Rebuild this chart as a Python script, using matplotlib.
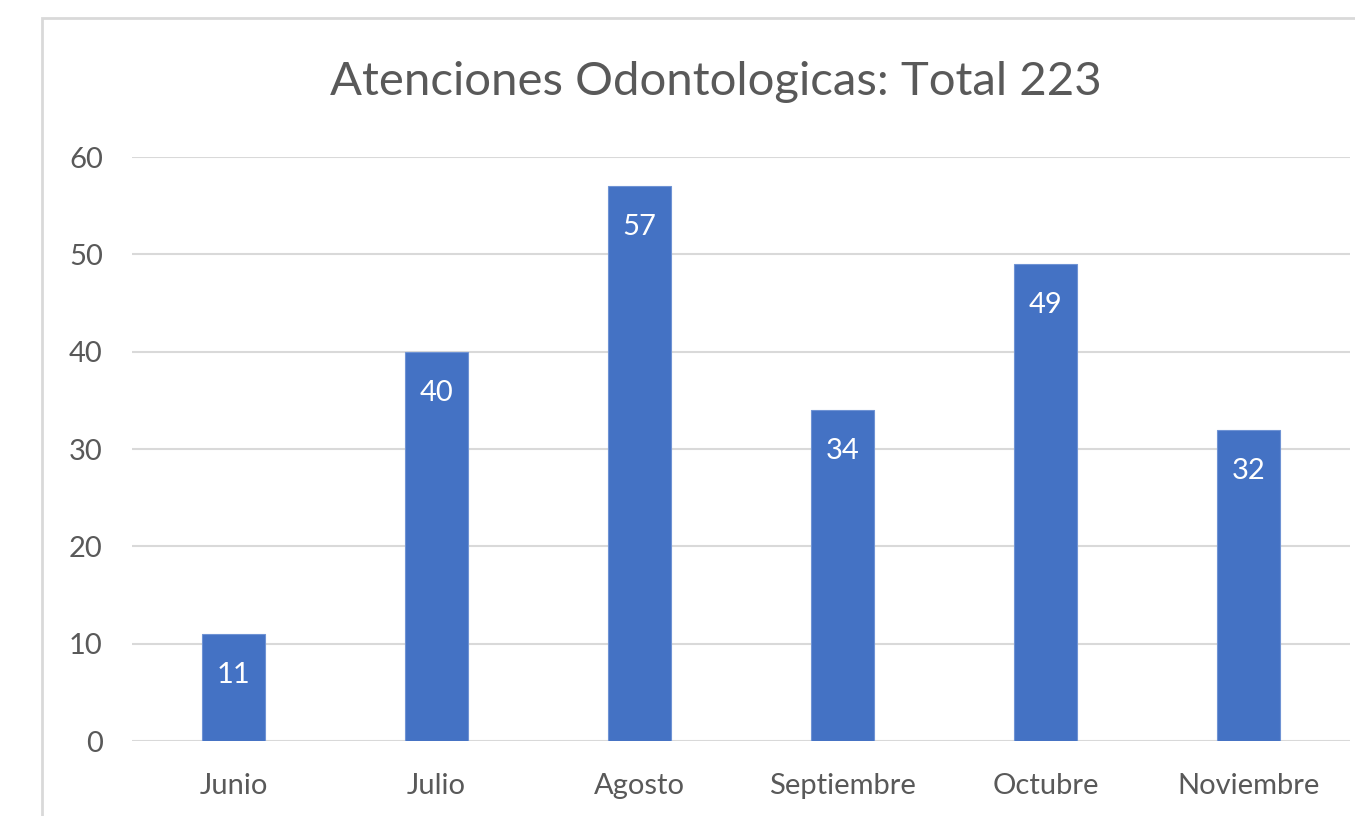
import matplotlib
matplotlib.use("Agg")
import matplotlib.pyplot as plt
from matplotlib.patches import Rectangle

categories = ["Junio", "Julio", "Agosto", "Septiembre", "Octubre", "Noviembre"]
values = [11, 40, 57, 34, 49, 32]
yticks = [0, 10, 20, 30, 40, 50, 60]
title = "Atenciones Odontologicas: Total 223"

W, H = 1355, 816
plt.rcParams['font.family'] = ['Lato', 'DejaVu Sans']
fig = plt.figure(figsize=(W / 100, H / 100), dpi=100)
fig.patch.set_facecolor("white")

# chart border (extends beyond image on right and bottom)
fig.patches.append(Rectangle((42 / W, -0.1), 1.2, 1 - 18 / H + 0.1, transform=fig.transFigure,
                             fill=False, edgecolor="#d9d9d9", linewidth=2))

ax = fig.add_axes([132 / W, 1 - 741 / H, (1350 - 132) / W, (741 - 157) / H])
x = list(range(len(categories)))
bars = ax.bar(x, values, width=0.315, color="#4472C4", edgecolor="#6f93d4", linewidth=0.8, zorder=3)
ax.set_xlim(-0.5, len(categories) - 0.5)
ax.set_ylim(0, 60)
ax.set_yticks(yticks)
ax.set_xticks(x)
ax.set_xticklabels(categories)
ax.grid(axis="y", color="#d9d9d9", linewidth=1.5, zorder=0)
for s in ax.spines.values():
    s.set_visible(False)
ax.tick_params(axis="both", length=0, labelsize=21, labelcolor="#595959")
ax.tick_params(axis="y", pad=21)
ax.tick_params(axis="x", pad=23)
ax.patch.set_alpha(0)

for b, v in zip(bars, values):
    ax.annotate(str(v), (b.get_x() + b.get_width() / 2, v), xytext=(0, -41),
                textcoords="offset pixels", ha="center", va="center",
                color="white", fontsize=21, zorder=4)

fig.text(716 / W, 1 - 82 / H, title, ha="center", va="center", fontsize=34, color="#595959")

fig.savefig("out.png", dpi=100, facecolor="white")
